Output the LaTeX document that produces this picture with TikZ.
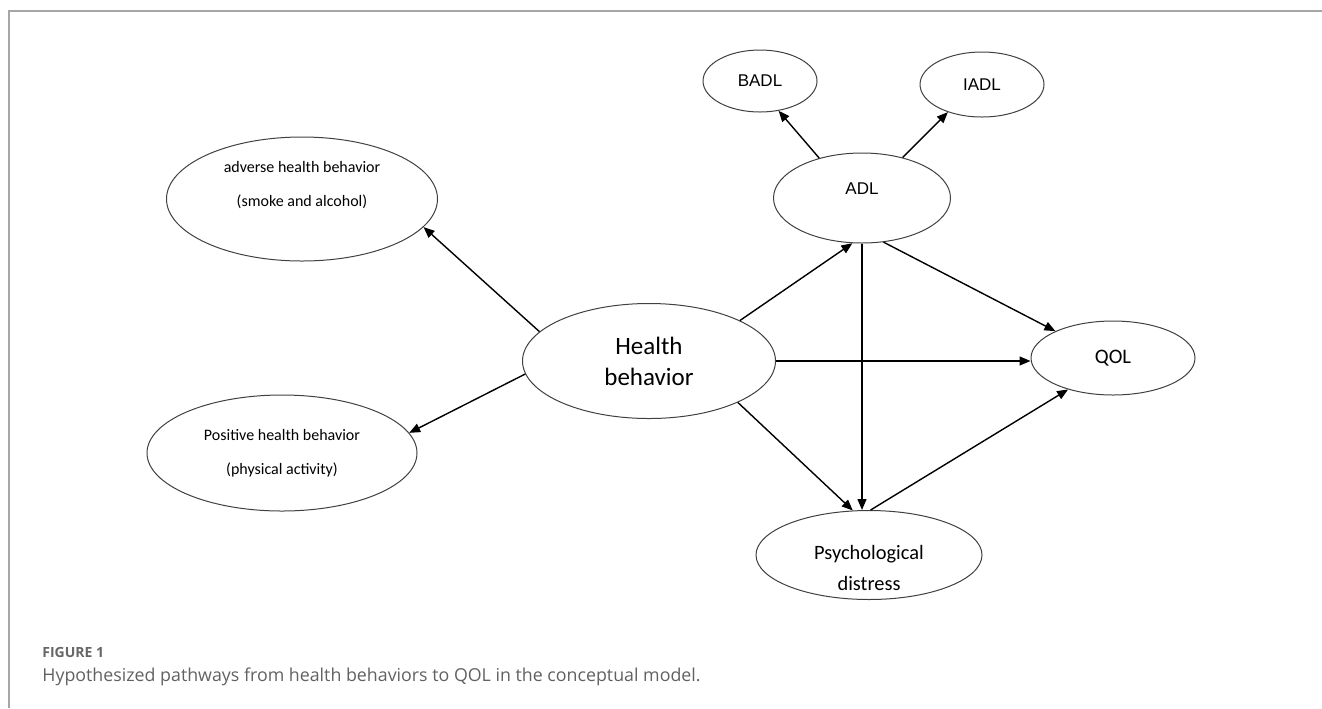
\documentclass[tikz,border=0pt]{standalone}
\usepackage{fontspec}
\setmainfont{Carlito}
\newfontfamily\arialfont{Liberation Sans}
\newfontfamily\captionfont{Open Sans}
\usetikzlibrary{shapes.geometric, arrows.meta, positioning}

\begin{document}
\begin{tikzpicture} [x = 0.5pt, y = -0.5pt, on grid,
		oval/.style = {ellipse, draw = black!75, line width = 0.5pt, inner sep = 0pt, align = center},
		ovaltext/.style = {align = center, inner sep = 0pt},
		arrow/.style = {-{Triangle[length = 5.5pt, width = 4.5pt]}, line width = 0.7pt}]
		% Frame : fixes the page size as well
		\useasboundingbox (0,0) rectangle (1322,708);
		\draw [black!35, line width = 0.8pt] (9,708) -- (9,11) -- (1322,11);

		% Centre Node : every other node is placed from this one
		\node (hb) [oval, minimum width = 126.5pt, minimum height = 57.5pt,
		font = \fontsize{12.5}{15.5}\selectfont] at (649,361) {Health\\behavior};

		% Left Nodes
		\node (adv) [oval, minimum width = 135.5pt, minimum height = 62pt, above left = 81pt and 173.5pt of hb,
		label = {[ovaltext, yshift = 7pt, font = \fontsize{8}{17}\selectfont]center:{adverse health behavior\\(smoke and alcohol)}}] {};
		\node (pos) [oval, minimum width = 135pt, minimum height = 58pt, below left = 46pt and 183.5pt of hb,
		font = \fontsize{8}{17}\selectfont] {Positive health behavior\\(physical activity)};

		% ADL and its two parts
		\node (adl) [oval, minimum width = 88.5pt, minimum height = 45pt, above right = 81.5pt and 106.5pt of hb,
		label = {[ovaltext, yshift = 4.5pt, font = \arialfont\fontsize{8.5}{10}\selectfont]center:ADL}] {};
		\node (badl) [oval, minimum width = 57pt, minimum height = 31pt, above left = 58.5pt and 51pt of adl,
		font = \arialfont\fontsize{8.5}{10}\selectfont] {BADL};
		\node (iadl) [oval, minimum width = 62pt, minimum height = 32.5pt, above right = 56.75pt and 60pt of adl,
		font = \arialfont\fontsize{8.5}{10}\selectfont] {IADL};

		% Right Nodes
		\node (qol) [oval, minimum width = 82pt, minimum height = 37pt, above right = 1.5pt and 232pt of hb,
		font = \fontsize{10.3}{12}\selectfont] {QOL};
		\node (psy) [oval, minimum width = 113pt, minimum height = 44.5pt, below right = 97pt and 110pt of hb,
		label = {[ovaltext, yshift = -6.5pt, font = \fontsize{10.2}{15.5}\selectfont]center:{Psychological\\distress}}] {};

		% Caption
		\node (fig) [anchor = west, inner sep = 0pt, text = black!60,
		font = \captionfont\bfseries\fontsize{7}{8}\selectfont] at (42,652) {FIGURE 1};
		\node (cap) [anchor = west, inner sep = 0pt, text = black!62,
		font = \captionfont\fontsize{8.9}{10}\selectfont] at (42,677)
		{Hypothesized pathways from health behaviors to QOL in the conceptual model.};

		% Draw Arrows/Connections
		\path [arrow]
		(hb.165) edge (adv.347)
		(hb.186) edge (pos.9)
		(hb.24) edge (adl.258)
		(hb.east) edge (hb.east -| qol.west)
		(hb.335) edge (psy.110)

		(adl.south) edge (adl.south |- psy.north)
		(adl.296) edge (qol.155)
		(adl.137) edge (badl.302)
		(adl.45) edge (iadl.219)

		(psy.88) edge (qol.215);
	\end{tikzpicture}
\end{document}
